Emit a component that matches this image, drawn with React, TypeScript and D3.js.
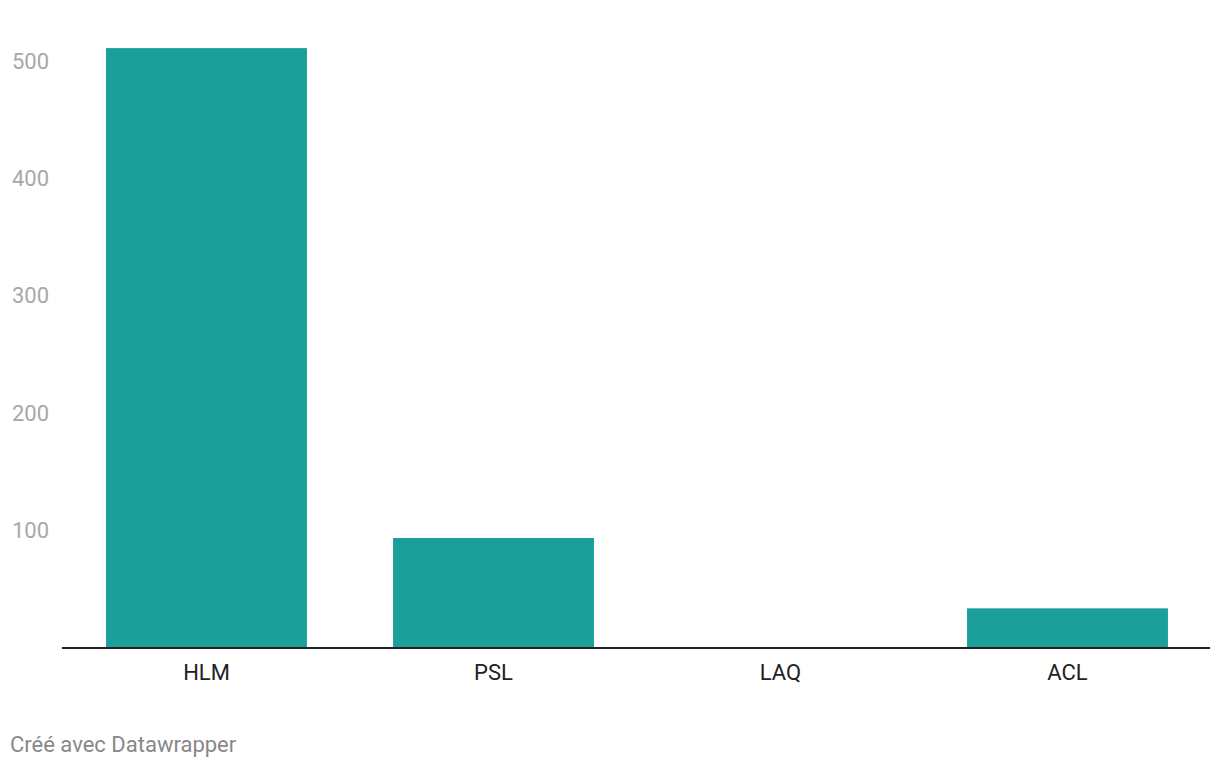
import * as d3 from 'd3';

const categories = ['HLM', 'PSL', 'LAQ', 'ACL'];
const values = [511, 93, 0, 33];
const yTicks = [100, 200, 300, 400, 500];

const WIDTH = 1220;
const HEIGHT = 768;
const MARGINS = { left: 62, right: 10, top: 61, bottom: 121 };
const FONT = 'Roboto, "Noto Sans", sans-serif';

export default function App() {
  const x = d3
    .scaleBand<string>()
    .domain(categories)
    .range([MARGINS.left + 1, WIDTH - MARGINS.right + 1])
    .paddingInner(0.3)
    .paddingOuter(0.15);

  const y = d3
    .scaleLinear()
    .domain([0, 500])
    .range([HEIGHT - MARGINS.bottom, MARGINS.top]);

  return (
    <svg
      width={WIDTH}
      height={HEIGHT}
      style={{ position: 'absolute', top: 0, left: 0, background: '#fff' }}
    >
      {yTicks.map((t) => (
        <text
          key={t}
          x={12}
          y={y(t)}
          dy="0.36em"
          fill="#a8a8a8"
          style={{ fontFamily: FONT, fontSize: 22 }}
        >
          {t}
        </text>
      ))}
      {categories.map((c, i) => (
        <rect
          key={c}
          x={x(c)}
          y={y(values[i])}
          width={x.bandwidth()}
          height={y(0) - y(values[i])}
          fill="#1b9f9a"
        />
      ))}
      <line
        x1={MARGINS.left}
        x2={WIDTH - MARGINS.right}
        y1={y(0) + 1}
        y2={y(0) + 1}
        stroke="#222"
        strokeWidth={2}
      />
      {categories.map((c) => (
        <text
          key={c}
          x={(x(c) ?? 0) + x.bandwidth() / 2}
          y={680}
          textAnchor="middle"
          fill="#222"
          style={{ fontFamily: FONT, fontSize: 22 }}
        >
          {c}
        </text>
      ))}
      <text x={10} y={752} fill="#888" style={{ fontFamily: FONT, fontSize: 22 }}>
        Créé avec Datawrapper
      </text>
    </svg>
  );
}
